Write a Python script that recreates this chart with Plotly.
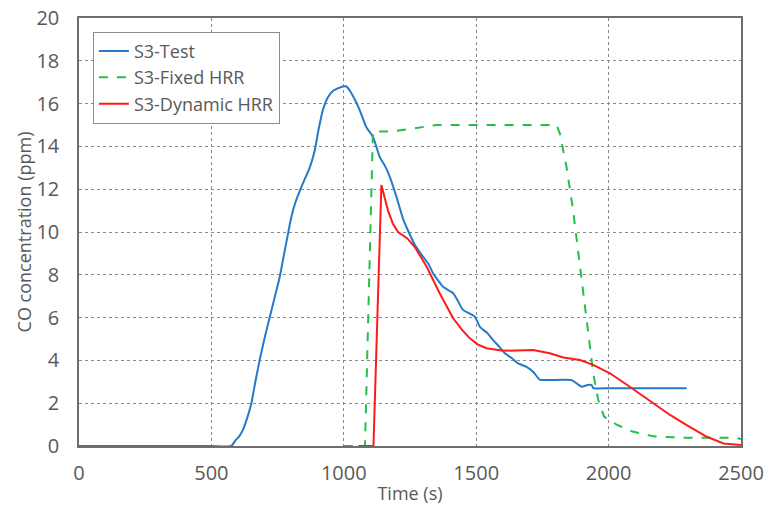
import plotly.graph_objects as go

test_t = [0, 250, 500, 575, 590, 605, 619, 635, 651, 666, 682, 700, 720, 740, 758, 775, 789, 800, 815, 833, 850, 871, 890, 905, 921, 940, 960, 975, 997, 1010, 1023, 1041, 1060, 1085, 1110, 1136, 1155, 1173, 1200, 1224, 1245, 1268, 1299, 1320, 1337, 1375, 1413, 1430, 1450, 1495, 1514, 1540, 1564, 1590, 1608, 1635, 1658, 1690, 1715, 1740, 1766, 1860, 1880, 1898, 1920, 1936, 1942, 2000, 2200, 2295]
test_co = [0, 0, 0, 0, 0.25, 0.45, 0.75, 1.3, 2.0, 3.0, 4.0, 5.0, 6.0, 7.0, 7.9, 9.0, 9.9, 10.6, 11.3, 11.9, 12.4, 13.0, 13.8, 14.8, 15.7, 16.3, 16.6, 16.7, 16.8, 16.8, 16.6, 16.2, 15.7, 14.9, 14.45, 13.5, 13.1, 12.6, 11.6, 10.6, 10.0, 9.4, 8.85, 8.5, 8.07, 7.44, 7.14, 6.8, 6.36, 6.04, 5.57, 5.3, 4.95, 4.6, 4.33, 4.1, 3.86, 3.7, 3.47, 3.1, 3.08, 3.08, 2.92, 2.77, 2.85, 2.85, 2.70, 2.70, 2.70, 2.70]

fixed_t = [1000, 1080, 1110, 1180, 1268, 1350, 1804, 1816, 1841, 1866, 1892, 1917, 1942, 1961, 1983, 2030, 2090, 2169, 2282, 2480, 2500]
fixed_co = [0, 0, 14.7, 14.7, 14.85, 15.0, 15.0, 14.6, 13.05, 11.0, 8.4, 6.0, 3.4, 2.15, 1.37, 1.0, 0.68, 0.45, 0.39, 0.39, 0.32]

dyn_t = [1055, 1112, 1142, 1155, 1167, 1185, 1205, 1240, 1268, 1312, 1362, 1413, 1445, 1476, 1505, 1539, 1602, 1715, 1778, 1829, 1892, 1942, 2005, 2080, 2169, 2232, 2295, 2371, 2434, 2500]
dyn_co = [0, 0, 12.2, 11.6, 11.0, 10.4, 10.0, 9.7, 9.3, 8.4, 7.14, 5.97, 5.45, 5.03, 4.75, 4.57, 4.45, 4.49, 4.33, 4.14, 4.02, 3.79, 3.40, 2.77, 2.0, 1.45, 0.98, 0.43, 0.12, 0.05]

x_ticks = [0, 500, 1000, 1500, 2000, 2500]
y_ticks = [0, 2, 4, 6, 8, 10, 12, 14, 16, 18, 20]

font = "Open Sans"
gray = "#595959"

fig = go.Figure()
fig.add_trace(go.Scatter(x=test_t, y=test_co, mode="lines", name="S3-Test",
                         line=dict(color="#2479C8", width=2, shape="spline", smoothing=0.5)))
fig.add_trace(go.Scatter(x=fixed_t, y=fixed_co, mode="lines", name="S3-Fixed HRR",
                         line=dict(color="#22C04A", width=2, dash="dash")))
fig.add_trace(go.Scatter(x=dyn_t, y=dyn_co, mode="lines", name="S3-Dynamic HRR",
                         line=dict(color="#FF1A1A", width=2)))

fig.update_layout(
    width=768, height=519,
    margin=dict(l=79, r=27, t=18, b=73),
    paper_bgcolor="white", plot_bgcolor="white",
    font=dict(family=font, size=18, color=gray),
    legend=dict(x=0.021, y=0.968, xanchor="left", yanchor="top",
                bgcolor="white", bordercolor="#8C8C8C", borderwidth=1,
                font=dict(size=18, color=gray), tracegroupgap=0),
    showlegend=True,
)
fig.update_xaxes(range=[0, 2500], tickvals=x_ticks, ticktext=[str(v) for v in x_ticks],
                 showgrid=True, gridcolor="#8A8A8A", griddash="dot", gridwidth=1,
                 showline=True, linecolor="#6E6E6E", linewidth=1.5, mirror=True,
                 zeroline=False, ticks="", ticklabelstandoff=8, automargin=False,
                 ticklabeloverflow="allow",
                 tickfont=dict(size=20, color=gray),
                 title=dict(text="Time (s)", font=dict(size=18, color=gray), standoff=3))
fig.update_yaxes(range=[0, 20], tickvals=y_ticks, ticktext=[str(v) for v in y_ticks],
                 showgrid=True, gridcolor="#8A8A8A", griddash="dot", gridwidth=1,
                 showline=True, linecolor="#6E6E6E", linewidth=1.5, mirror=True,
                 zeroline=False, ticks="", ticklabelstandoff=14, automargin=False,
                 ticklabeloverflow="allow",
                 tickfont=dict(size=20, color=gray),
                 title=dict(text="CO concentration (ppm)", font=dict(size=18, color=gray), standoff=0))

fig.write_html("out.html", config={"displayModeBar": False},
               post_script="document.body.style.margin='0px';")
